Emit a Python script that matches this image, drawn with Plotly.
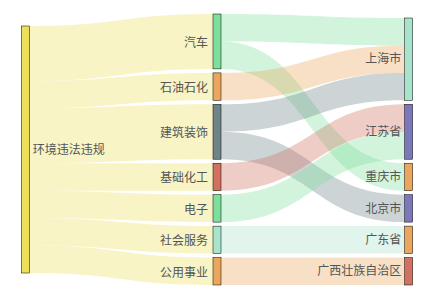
import plotly.graph_objects as go

nodes = ["环境违法违规", "汽车", "石油石化", "建筑装饰", "基础化工", "电子", "社会服务", "公用事业",
         "上海市", "江苏省", "重庆市", "北京市", "广东省", "广西壮族自治区"]
node_colors = ["#ebdf5c", "#7ddf9b", "#e9a65c", "#6f8489", "#d2715f", "#7ddf9b", "#a8e3cc", "#e9a65c",
               "#a8e3cc", "#7b77bb", "#e9a65c", "#7b77bb", "#e9a65c", "#d2715f"]
columns = [["环境违法违规"],
           ["汽车", "石油石化", "建筑装饰", "基础化工", "电子", "社会服务", "公用事业"],
           ["上海市", "江苏省", "重庆市", "北京市", "广东省", "广西壮族自治区"]]

link_source = ["环境违法违规"] * 7 + ["汽车", "汽车", "石油石化", "建筑装饰", "建筑装饰", "基础化工", "电子", "社会服务", "公用事业"]
link_target = ["汽车", "石油石化", "建筑装饰", "基础化工", "电子", "社会服务", "公用事业",
               "上海市", "重庆市", "上海市", "上海市", "北京市", "江苏省", "江苏省", "广东省", "广西壮族自治区"]
link_value = [2, 1, 2, 1, 1, 1, 1, 1, 1, 1, 1, 1, 1, 1, 1, 1]


def hex_rgba(h, a):
    h = h.lstrip("#")
    return "rgba(%d,%d,%d,%.2f)" % (int(h[0:2], 16), int(h[2:4], 16), int(h[4:6], 16), a)


W, H = 435, 300
M = dict(l=25, r=26, t=14, b=15)
PAD = 4
THICK = 8
FONT = dict(family="Noto Sans CJK SC", size=12, color="#555555")
dom_h = H - M["t"] - M["b"]
pad_f = PAD / dom_h

idx = {n: i for i, n in enumerate(nodes)}
src = [idx[s] for s in link_source]
tgt = [idx[t] for t in link_target]
link_colors = [hex_rgba(node_colors[s], 0.35) for s in src]

val_in = {n: 0 for n in nodes}
val_out = {n: 0 for n in nodes}
for s, t, v in zip(link_source, link_target, link_value):
    val_out[s] += v
    val_in[t] += v
node_val = {n: max(val_in[n], val_out[n]) for n in nodes}

ky = min((1 - (len(c) - 1) * pad_f) / sum(node_val[n] for n in c) for c in columns)

xs = [0.001, 0.5, 0.999]
node_x = [0] * len(nodes)
node_y = [0] * len(nodes)
for ci, col in enumerate(columns):
    total = sum(node_val[n] for n in col) * ky + (len(col) - 1) * pad_f
    start = (1 - total) / 2 if ci == 0 else 1 - total
    y = start
    for n in col:
        h = node_val[n] * ky
        node_x[idx[n]] = xs[ci]
        node_y[idx[n]] = y + h / 2
        y += h + pad_f

# middle-column labels are drawn on the left of their nodes as annotations
mid = set(columns[1])
sankey_labels = ["" if n in mid else n for n in nodes]
annotations = [
    dict(text=n, x=xs[1], y=1 - node_y[idx[n]], xref="paper", yref="paper",
         xanchor="right", yanchor="middle", xshift=-(THICK / 2 + 3),
         showarrow=False, font=FONT)
    for n in columns[1]
]

fig = go.Figure(go.Sankey(
    arrangement="fixed",
    node=dict(
        label=sankey_labels,
        color=node_colors,
        x=node_x,
        y=node_y,
        pad=PAD,
        thickness=THICK,
        line=dict(width=0.5, color=node_colors),
        hoverinfo="none",
    ),
    link=dict(source=src, target=tgt, value=link_value, color=link_colors, hoverinfo="none"),
    textfont=dict(**FONT, shadow="none"),
))
fig.update_layout(
    width=W, height=H,
    margin=M,
    paper_bgcolor="white",
    annotations=annotations,
)
fig.write_html("out.html")
